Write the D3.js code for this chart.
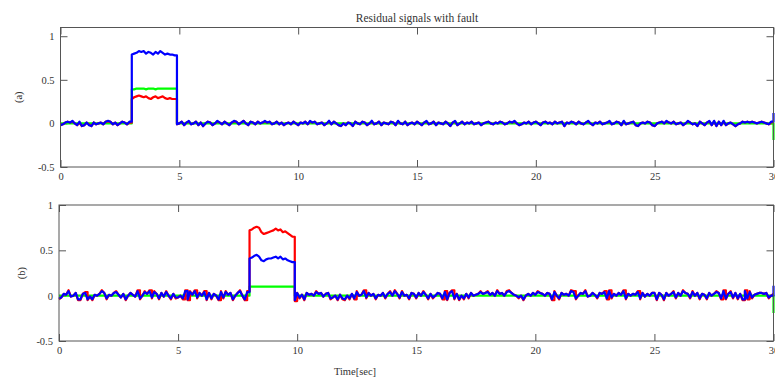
<!DOCTYPE html>
<html><head><meta charset="utf-8">
<script src="https://cdn.jsdelivr.net/npm/d3@7"></script>
<style>
html,body{margin:0;padding:0;background:#fff;}
svg{display:block;}
text{font-family:"Liberation Serif","Times New Roman",serif;fill:#333;}
</style></head>
<body>
<svg id="c" width="775" height="379"></svg>
<script>
// sample period (s)
const dt = 0.1;
const xTicks = [0,5,10,15,20,25,30];
const yTicks = [-0.5,0,0.5,1];
const title = "Residual signals with fault";
const xLabel = "Time[sec]";
const panelLabels = ["(a)","(b)"];

const aRed = [
-.02,-.01,.01,.02,.01,.02,.00,-.02,.01,-.03,
-.02,.01,-.01,-.03,.01,-.01,.00,.01,-.01,.02,
.02,.02,-.01,.01,-.02,.00,.02,.01,-.01,.01,
.28,.30,.31,.32,.31,.30,.31,.29,.28,.30,
.31,.29,.30,.31,.29,.28,.29,.28,.28,-.01,
.00,.02,-.02,.01,.02,-.01,.00,.02,-.02,.01,
-.03,.00,.02,.01,-.02,.00,.02,.01,-.01,.02,
.00,-.02,.01,.02,.02,-.01,.01,.03,.00,-.02,
.02,.01,-.01,.02,.00,.01,.02,.01,.02,-.01,
.00,.02,-.01,.01,-.02,.00,.01,-.01,.02,.00,
-.02,.01,.00,.02,-.01,.02,.01,.02,-.01,.00,
.01,-.02,.00,.02,-.01,.02,.00,-.02,-.03,.00,
-.02,.01,.00,-.03,.02,.00,-.01,.02,.01,-.02,
.00,.02,-.01,.00,.02,-.02,.01,.00,-.01,.02,
.01,-.02,.02,.00,-.01,.02,-.02,.00,.01,-.01,
.02,.00,-.02,.01,.02,-.01,.00,.02,-.02,.01,
.00,-.01,.02,.00,-.03,.01,.02,-.02,.00,.02,
-.01,.01,.00,.02,-.01,.00,.01,-.02,.00,.01,
.02,.00,-.01,.01,.00,.02,.01,-.01,.00,.02,
.01,.02,.00,-.02,-.01,.01,.00,.02,-.01,.01,
.02,.00,-.02,.01,.02,.00,.01,-.01,.02,.00,
.01,.02,-.03,.01,.00,.02,.01,-.01,.02,.00,
-.01,.01,.02,.00,-.02,.01,.00,.02,-.01,.00,
.01,.02,-.01,.00,.02,.01,-.02,.02,-.01,.00,
.01,.02,-.02,-.03,.00,.01,.00,.02,.01,-.02,
-.03,.00,.01,.02,.00,.02,.01,.00,.02,-.01,
.00,.01,-.02,.00,.02,.01,-.01,.00,-.03,.02,
.00,-.02,.01,.02,-.02,.02,-.03,.02,-.02,.02,
-.02,.00,.01,-.01,-.03,-.01,.00,.02,.01,.02,
.01,.02,.01,.00,.01,.02,.01,.00,-.01,.01,
.02];

const aGreen = [
0,0,0,0,0,0,0,0,0,0,
0,0,0,0,0,0,0,0,0,0,
0,0,0,0,0,0,0,0,0,0,
.39,.39,.40,.40,.40,.40,.39,.40,.40,.40,
.39,.40,.40,.40,.40,.40,.40,.40,.40,0,
0,0,0,0,0,0,0,0,0,0,
0,0,0,0,0,0,0,0,0,0,
0,0,0,0,0,0,0,0,0,0,
0,0,0,0,0,0,0,0,0,0,
0,0,0,0,0,0,0,0,0,0,
0,0,0,0,0,0,0,0,0,0,
0,0,0,0,0,0,0,0,0,0,
0,0,0,0,0,0,0,0,0,0,
0,0,0,0,0,0,0,0,0,0,
0,0,0,0,0,0,0,0,0,0,
0,0,0,0,0,0,0,0,0,0,
0,0,0,0,0,0,0,0,0,0,
0,0,0,0,0,0,0,0,0,0,
0,0,0,0,0,0,0,0,0,0,
0,0,0,0,0,0,0,0,0,0,
0,0,0,0,0,0,0,0,0,0,
0,0,0,0,0,0,0,0,0,0,
0,0,0,0,0,0,0,0,0,0,
0,0,0,0,0,0,0,0,0,0,
0,0,0,0,0,0,0,0,0,0,
0,0,0,0,0,0,0,0,0,0,
0,0,0,0,0,0,0,0,0,0,
0,0,0,0,0,0,0,0,0,0,
0,0,0,0,0,0,0,0,0,0,
0,0,0,0,0,0,0,0,0,0,
-.19];

const aBlue = [
-.02,-.01,.01,.02,.01,.03,.00,-.02,.02,-.03,
-.02,.01,-.02,-.03,.01,-.01,.00,.01,-.01,.02,
.03,.02,-.01,.01,-.02,.00,.02,.01,-.01,.02,
.79,.80,.81,.83,.82,.83,.80,.82,.81,.79,
.82,.80,.83,.81,.79,.80,.79,.79,.78,-.01,
.00,.02,-.02,.01,.03,-.01,.00,.02,-.02,.01,
-.03,.00,.02,.01,-.02,.00,.03,.01,-.01,.02,
.00,-.02,.01,.03,.02,-.01,.01,.03,.00,-.02,
.02,.01,-.01,.02,.00,.01,.03,.01,.02,-.01,
.00,.02,-.01,.01,-.02,.00,.01,-.01,.02,.00,
-.02,.01,.00,.02,-.01,.03,.01,.02,-.01,.00,
.01,-.02,.00,.03,-.01,.02,.00,-.02,-.03,.00,
-.02,.01,.00,-.03,.02,.00,-.01,.02,.01,-.02,
.00,.03,-.01,.00,.02,-.02,.01,.00,-.01,.02,
.01,-.02,.03,.00,-.01,.02,-.02,.00,.01,-.01,
.02,.00,-.02,.01,.03,-.01,.00,.02,-.02,.01,
.00,-.01,.02,.00,-.03,.01,.03,-.02,.00,.02,
-.01,.01,.00,.02,-.01,.00,.01,-.02,.00,.01,
.02,.00,-.01,.01,.00,.02,.01,-.01,.00,.02,
.01,.03,.00,-.02,-.01,.01,.00,.02,-.01,.01,
.02,.00,-.02,.01,.02,.00,.01,-.01,.02,.00,
.01,.02,-.03,.01,.00,.02,.01,-.01,.02,.00,
-.01,.01,.03,.00,-.02,.01,.00,.02,-.01,.00,
.01,.03,-.01,.00,.02,.01,-.02,.03,-.01,.00,
.01,.02,-.02,-.03,.00,.01,.00,.02,.01,-.02,
-.03,.00,.01,.02,.00,.03,.01,.00,.02,-.01,
.00,.01,-.02,.00,.03,.01,-.01,.00,-.03,.02,
.00,-.02,.01,.03,-.02,.03,-.03,.02,-.02,.03,
-.02,.00,.01,-.01,-.03,-.01,.00,.02,.01,.02,
.01,.02,.01,.00,.01,.02,.01,.00,-.01,.02,
.12];

const bRed = [
-.04,-.02,.02,.01,.06,-.01,.00,.03,-.05,-.05,
.02,.04,-.05,-.01,-.05,.01,.00,.02,.06,.03,
-.04,.01,.00,.03,.05,.01,-.02,.02,-.05,.00,
.03,.01,-.01,.06,-.04,.00,.05,.02,.06,-.03,
.05,.02,-.04,.03,-.01,.05,.00,-.04,.02,-.03,
-.02,.00,-.04,.06,-.05,.05,.01,.06,-.03,.03,
.00,.05,-.05,.03,-.04,.02,.00,-.05,.05,-.03,
.05,.01,.03,-.05,.00,.03,.06,.00,-.05,.05,
.72,.73,.75,.76,.75,.70,.68,.69,.70,.71,
.72,.74,.72,.73,.70,.71,.69,.67,.65,-.06,
.03,-.03,.01,-.05,.03,.01,.02,.00,.05,.02,
.03,-.01,.02,.03,-.04,-.02,.00,-.05,.01,-.04,
-.05,.00,-.04,.02,-.04,.05,.00,.01,.06,-.03,
.03,.00,.02,-.04,.01,.00,.03,-.03,.02,.05,
.00,.06,.02,-.03,.05,.00,.01,-.04,.03,.02,
-.03,.03,.00,.05,.01,-.04,.02,-.03,.00,.03,
.02,-.04,.05,-.05,.03,.06,-.04,.02,-.05,.00,
-.04,.02,-.03,.03,.00,.01,.02,.05,.02,.03,
.05,.01,.03,.00,.06,.02,.03,.00,.05,.06,
.03,.01,.00,-.03,.00,-.05,.00,.02,.00,.03,
.01,.05,.03,.02,.00,.03,.02,-.05,.05,.00,
-.04,.03,.01,.02,.00,.06,.05,-.04,.00,.03,
.02,.06,-.01,.00,.03,.01,-.03,.03,.02,.05,
-.04,.06,-.03,.02,.00,.03,.01,.06,-.04,.02,
.00,.02,.01,.05,-.04,.03,-.01,.02,.00,.03,
.03,-.05,.03,.01,-.05,.03,.00,.02,.05,-.03,
.03,.00,.06,.03,.02,-.03,.05,.00,.03,-.04,
.02,.01,-.04,.03,.00,.02,.05,.03,-.04,.06,
-.04,.02,.05,-.03,.03,-.04,.02,-.05,.06,-.04,
.05,-.03,.01,.02,.03,.03,.02,.03,-.03,.00,
.02];

const bGreen = [
0,0,0,0,0,0,0,0,0,0,
0,0,0,0,0,0,0,0,0,0,
0,0,0,0,0,0,0,0,0,0,
0,0,0,0,0,0,0,0,0,0,
0,0,0,0,0,0,0,0,0,0,
0,0,0,0,0,0,0,0,0,0,
0,0,0,0,0,0,0,0,0,0,
0,0,0,0,0,0,0,0,0,0,
.10,.10,.10,.10,.10,.10,.10,.10,.10,.10,
.10,.10,.10,.10,.10,.10,.10,.10,.10,0,
0,0,0,0,0,0,0,0,0,0,
0,0,0,0,0,0,0,0,0,0,
0,0,0,0,0,0,0,0,0,0,
0,0,0,0,0,0,0,0,0,0,
0,0,0,0,0,0,0,0,0,0,
0,0,0,0,0,0,0,0,0,0,
0,0,0,0,0,0,0,0,0,0,
0,0,0,0,0,0,0,0,0,0,
0,0,0,0,0,0,0,0,0,0,
0,0,0,0,0,0,0,0,0,0,
0,0,0,0,0,0,0,0,0,0,
0,0,0,0,0,0,0,0,0,0,
0,0,0,0,0,0,0,0,0,0,
0,0,0,0,0,0,0,0,0,0,
0,0,0,0,0,0,0,0,0,0,
0,0,0,0,0,0,0,0,0,0,
0,0,0,0,0,0,0,0,0,0,
0,0,0,0,0,0,0,0,0,0,
0,0,0,0,0,0,0,0,0,0,
0,0,0,0,0,0,0,0,0,0,
-.19];

const bBlue = [
-.03,-.02,.02,.01,.05,-.01,.00,.03,-.04,-.04,
.02,.03,-.04,-.01,-.04,.01,.00,.02,.05,.03,
-.03,.01,.00,.03,.04,.01,-.02,.02,-.04,.00,
.03,.01,-.01,.05,-.03,.00,.04,.02,.05,-.02,
.04,.02,-.03,.03,-.01,.04,.00,-.03,.02,-.02,
-.02,.00,-.03,.05,-.04,.04,.01,.05,-.02,.03,
.00,.04,-.04,.03,-.03,.02,.00,-.04,.04,-.02,
.04,.01,.03,-.04,.00,.03,.05,.00,-.04,.04,
.41,.42,.44,.45,.43,.39,.38,.40,.41,.41,
.42,.43,.41,.43,.40,.41,.39,.38,.37,-.05,
.03,-.02,.01,-.04,.03,.01,.02,.00,.04,.02,
.03,-.01,.02,.03,-.03,-.02,.00,-.04,.01,-.03,
-.04,.00,-.03,.02,-.03,.04,.00,.01,.05,-.02,
.03,.00,.02,-.03,.01,.00,.03,-.02,.02,.04,
.00,.05,.02,-.02,.04,.00,.01,-.03,.03,.02,
-.02,.03,.00,.04,.01,-.03,.02,-.02,.00,.03,
.02,-.03,.04,-.04,.03,.05,-.03,.02,-.04,.00,
-.03,.02,-.02,.03,.00,.01,.02,.04,.02,.03,
.04,.01,.03,.00,.05,.02,.03,.00,.04,.05,
.03,.01,.00,-.02,.00,-.04,.00,.02,.00,.03,
.01,.04,.03,.02,.00,.03,.02,-.04,.04,.00,
-.03,.03,.01,.02,.00,.05,.04,-.03,.00,.03,
.02,.05,-.01,.00,.03,.01,-.02,.03,.02,.04,
-.03,.05,-.02,.02,.00,.03,.01,.05,-.03,.02,
.00,.02,.01,.04,-.03,.03,-.01,.02,.00,.03,
.03,-.04,.03,.01,-.04,.03,.00,.02,.04,-.02,
.03,.00,.05,.03,.02,-.02,.04,.00,.03,-.03,
.02,.01,-.03,.03,.00,.02,.04,.03,-.03,.05,
-.03,.02,.04,-.02,.03,-.03,.02,-.04,.05,-.03,
.04,-.02,.01,.02,.03,.03,.02,.03,-.02,.00,
.11];

const panels = [
  {label: panelLabels[0], yMax: 1.1, series: [aGreen, aRed, aBlue],
   left: 60.5, right: 773.5, top: 27.5, bottom: 167, labelX: 18},
  {label: panelLabels[1], yMax: 1.0, series: [bGreen, bRed, bBlue],
   left: 59, right: 773.5, top: 205, bottom: 341, labelX: 21}
];
const colors = ["#00ff00", "#ff0000", "#0000ff"];

const svg = d3.select("#c");

svg.append("text").attr("x", 417).attr("y", 22).attr("text-anchor", "middle")
  .style("font-size", "11.5px").text(title);

panels.forEach(p => {
  const x = d3.scaleLinear().domain([0, 30]).range([p.left, p.right]);
  const y = d3.scaleLinear().domain([-0.5, p.yMax]).range([p.bottom, p.top]);
  const g = svg.append("g");

  const fmt = d => String(d);
  const ax = (gen, tx, ty, labels) => {
    const a = g.append("g").attr("transform", `translate(${tx},${ty})`).call(gen);
    a.select(".domain").remove();
    a.selectAll("line").attr("stroke", "#555");
    a.selectAll("text").style("font-size", "10.5px").attr("fill", "#333")
      .style("font-family", '"Liberation Serif",serif');
    if (!labels) a.selectAll("text").remove();
    return a;
  };
  ax(d3.axisBottom(x).tickValues(xTicks).tickFormat(fmt).tickSize(-7).tickPadding(6), 0, p.bottom, true);
  ax(d3.axisTop(x).tickValues(xTicks).tickSize(-7), 0, p.top, false);
  ax(d3.axisLeft(y).tickValues(yTicks).tickFormat(fmt).tickSize(-7).tickPadding(6), p.left, 0, true);
  ax(d3.axisRight(y).tickValues(yTicks).tickSize(-7), p.right, 0, false);

  // vertical jumps of the fault happen within one sample: use step for big jumps, linear for noise
  const line = d3.line()
    .x((d, i) => x(i * dt)).y(d => y(d))
    .curve(d3.curveLinear);
  p.series.forEach((s, k) => {
    // expand big jumps into vertical edges so fault boundaries stay sharp
    const pts = [];
    s.forEach((v, i) => {
      if (i > 0 && Math.abs(v - s[i - 1]) > 0.08) pts.push([i * dt, s[i - 1]]);
      pts.push([i * dt, v]);
    });
    g.append("path").datum(pts)
      .attr("d", d3.line().x(d => x(d[0])).y(d => y(d[1])))
      .attr("fill", "none").attr("stroke", colors[k]).attr("stroke-width", 2.2)
      .attr("stroke-linejoin", "round");
  });

  g.append("rect").attr("x", p.left).attr("y", p.top)
    .attr("width", p.right - p.left).attr("height", p.bottom - p.top)
    .attr("fill", "none").attr("stroke", "#555").attr("stroke-width", 1);

  svg.append("text")
    .attr("transform", `translate(${p.labelX},${(p.top + p.bottom) / 2}) rotate(-90)`)
    .attr("text-anchor", "middle").attr("dy", "0.35em")
    .style("font-size", "10.5px").text(p.label);
});

svg.append("text").attr("x", 355).attr("y", 375).attr("text-anchor", "middle")
  .style("font-size", "10.5px").text(xLabel);
</script>
</body></html>
